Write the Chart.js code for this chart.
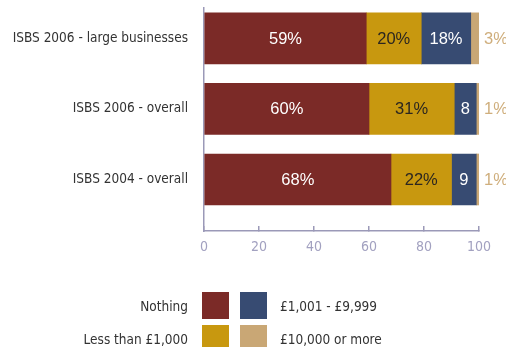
<!DOCTYPE html>
<html>
<head>
<meta charset="utf-8">
<title>ISBS - spend</title>
<script src="https://cdn.jsdelivr.net/npm/chart.js@4.4.1/dist/chart.umd.min.js"></script>
<style>
  html, body { margin: 0; padding: 0; background: #fff; }
  canvas { display: block; }
</style>
</head>
<body>
<canvas id="grafico" width="506" height="347"></canvas>
<script>
// Encuestas y porcentajes por tramo de gasto
const categorias = ["ISBS 2006 - large businesses", "ISBS 2006 - overall", "ISBS 2004 - overall"];
const nombresSeries = ["Nothing", "Less than £1,000", "£1,001 - £9,999", "£10,000 or more"];
const nada = [59, 60, 68];
const menosDeMil = [20, 31, 22];
const entreMilYDiezMil = [18, 8, 9];
const diezMilOMas = [3, 1, 1];
const ticksX = [0, 20, 40, 60, 80, 100];

const colores = ["#7b2a27", "#c8980f", "#374b72", "#c9a775"];
const colorEje = "#9b99b8";
const fuenteEstrecha = '"DejaVu Sans Condensed", "Liberation Sans Narrow", sans-serif';
const fuenteNormal = '"Liberation Sans", Arial, sans-serif';

const series = [nada, menosDeMil, entreMilYDiezMil, diezMilOMas];

// etiquetas de valor: dentro de la barra, o a la derecha para la última serie
const pluginEtiquetas = {
  id: "etiquetasValor",
  afterDatasetsDraw(chart) {
    const ctx = chart.ctx;
    ctx.save();
    ctx.font = "16.5px " + fuenteNormal;
    ctx.textBaseline = "middle";
    chart.data.datasets.forEach((ds, d) => {
      const meta = chart.getDatasetMeta(d);
      meta.data.forEach((barra, i) => {
        const valor = ds.data[i];
        if (d === series.length - 1) {
          ctx.fillStyle = "#cfae7c";
          ctx.textAlign = "left";
          ctx.fillText(valor + "%", barra.x + 5, barra.y + 1);
          return;
        }
        // en barras angostas se omite el signo %
        const texto = valor < 10 ? String(valor) : valor + "%";
        ctx.fillStyle = d === 1 ? "#2b2620" : "#ffffff";
        ctx.textAlign = "center";
        ctx.fillText(texto, (barra.x + barra.base) / 2, barra.y + 1);
      });
    });
    ctx.restore();
  }
};

// leyenda en dos columnas debajo del gráfico
const pluginLeyenda = {
  id: "leyendaCuadros",
  afterDraw(chart) {
    const ctx = chart.ctx;
    ctx.save();
    ctx.font = "13.5px " + fuenteEstrecha;
    ctx.textBaseline = "middle";
    const filas = [292, 325];
    [0, 1].forEach((f) => {
      const y = filas[f];
      ctx.fillStyle = colores[f];
      ctx.fillRect(202, y, 27, 27);
      ctx.fillStyle = colores[f + 2];
      ctx.fillRect(240, y, 27, 27);
      ctx.fillStyle = "#333333";
      ctx.textAlign = "right";
      ctx.fillText(nombresSeries[f], 188, y + 15);
      ctx.textAlign = "left";
      ctx.fillText(nombresSeries[f + 2], 280, y + 15);
    });
    ctx.restore();
  }
};

new Chart(document.getElementById("grafico"), {
  type: "bar",
  data: {
    labels: categorias.map((_, i) => i),
    datasets: series.map((valores, d) => ({
      label: nombresSeries[d],
      data: valores,
      backgroundColor: colores[d],
      borderWidth: 0,
      barThickness: 51
    }))
  },
  options: {
    indexAxis: "y",
    responsive: false,
    animation: false,
    layout: { padding: { top: 8, right: 27, bottom: 86, left: 0 } },
    plugins: {
      legend: { display: false },
      tooltip: { enabled: false }
    },
    scales: {
      x: {
        stacked: true,
        min: 0,
        max: 100,
        afterBuildTicks: (escala) => { escala.ticks = ticksX.map((v) => ({ value: v })); },
        afterFit: (escala) => { escala.height = 30; },
        border: { color: colorEje, width: 1.5 },
        grid: { drawOnChartArea: false, color: colorEje, tickLength: -5, lineWidth: 1.5 },
        ticks: { color: "#a2a1c0", padding: 13, font: { family: fuenteEstrecha, size: 14 } }
      },
      y: {
        type: "linear",
        offset: false,
        bounds: "data",
        stacked: true,
        reverse: true,
        min: -0.43,
        max: 2.73,
        afterBuildTicks: (escala) => { escala.ticks = categorias.map((_, i) => ({ value: i })); },
        afterFit: (escala) => {
          escala.width = 204;
          // sin margen extra: las etiquetas no tocan los extremos del eje
          escala.paddingTop = 0;
          escala.paddingBottom = 0;
        },
        border: { color: colorEje, width: 1.5 },
        grid: { display: false, drawTicks: false, offset: false },
        ticks: {
          color: "#333333",
          padding: 16,
          font: { family: fuenteEstrecha, size: 13.5 },
          callback: (v) => categorias[v] ?? ""
        }
      }
    }
  },
  plugins: [pluginEtiquetas, pluginLeyenda]
});
</script>
</body>
</html>
